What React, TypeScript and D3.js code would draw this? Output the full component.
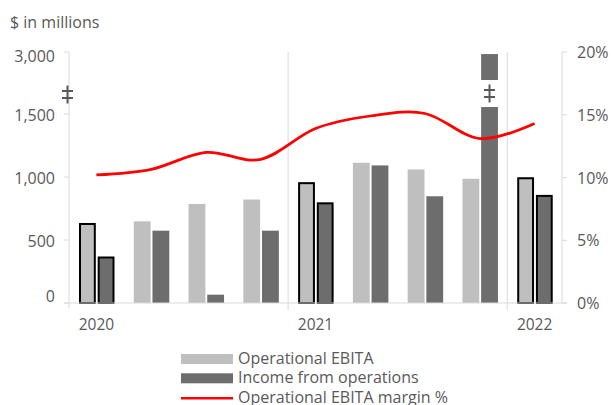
import React from "react";
import * as d3 from "d3";

const quarters = ["Q1 2020", "Q2 2020", "Q3 2020", "Q4 2020", "Q1 2021", "Q2 2021", "Q3 2021", "Q4 2021", "Q1 2022"];
const operationalEbita = [635, 648, 786, 821, 959, 1113, 1060, 986, 998];
const incomeFromOperations = [369, 574, 66, 574, 799, 1092, 847, 2950, 858];
const ebitaMarginPct = [10.2, 10.65, 12.0, 11.45, 13.9, 14.9, 15.1, 13.1, 14.3];
const leftTicks = [0, 500, 1000, 1500, 3000];
const rightTicks = [0, 5, 10, 15, 20];
const years = ["2020", "2021", "2022"];
const legendItems = ["Operational EBITA", "Income from operations", "Operational EBITA margin %"];

const W = 611;
const H = 405;
const FONT = "'Open Sans', sans-serif";
const TEXT = "#595959";
const GRID = "#d9d9d9";
const LIGHT = "#bfbfbf";
const DARK = "#6d6d6d";
const RED = "#ff0000";

export default function App() {
  const left = 69;
  const right = 562;
  const top = 52;
  const bottom = 303;

  const x = d3.scaleBand<string>().domain(quarters).range([left, right]).paddingInner(0).paddingOuter(0);
  const inner = d3.scaleBand<string>().domain(["ebita", "income"]).range([10, 45.5]).paddingInner(0.1);
  // broken axis: 0..1500 linear, 1500..3000 compressed
  const yL = d3.scaleLinear().domain([0, 1500, 3000]).range([bottom, 114, top]);
  const yR = d3.scaleLinear().domain([0, 20]).range([bottom, top]);

  const line = d3
    .line<number>()
    .x((_, i) => (x(quarters[i]) as number) + x.bandwidth() / 2)
    .y((d) => yR(d))
    .curve(d3.curveCatmullRom.alpha(0));

  const isQ1 = (q: string) => q.startsWith("Q1");
  const yearIdx = quarters.map((q, i) => (isQ1(q) ? i : -1)).filter((i) => i >= 0);
  const dividers = yearIdx.slice(1).map((i) => x(quarters[i]) as number);

  const breakIdx = incomeFromOperations.findIndex((v) => v > 1500);

  const drawBreak = (cx: number, cy: number, key: string) => (
    <g key={key} stroke={TEXT} strokeWidth={2}>
      <line x1={cx} x2={cx} y1={cy - 9} y2={cy + 9} />
      <line x1={cx - 5.5} x2={cx + 5.5} y1={cy - 3.5} y2={cy - 3.5} />
      <line x1={cx - 5.5} x2={cx + 5.5} y1={cy + 3.5} y2={cy + 3.5} />
    </g>
  );

  return (
    <svg width={W} height={H} style={{ position: "absolute", left: 0, top: 0, background: "#fff" }} fontFamily={FONT}>
      <text x={10} y={28} fontSize={16} fill={TEXT}>$ in millions</text>

      {/* gridlines / axes */}
      <line x1={left} x2={left} y1={top} y2={bottom + 5} stroke={GRID} />
      {dividers.map((dx, i) => (
        <line key={"d" + i} x1={dx} x2={dx} y1={top} y2={bottom + 7} stroke={GRID} />
      ))}
      <line x1={right} x2={right} y1={top} y2={bottom} stroke={GRID} />
      {leftTicks.map((t) => (
        <line key={"lt" + t} x1={left - 5} x2={left} y1={yL(t)} y2={yL(t)} stroke={GRID} />
      ))}
      {rightTicks.map((t) => (
        <line key={"rt" + t} x1={right} x2={right + 5} y1={yR(t)} y2={yR(t)} stroke={GRID} />
      ))}

      {/* bars */}
      {quarters.map((q, i) => {
        const bx = x(q) as number;
        const hl = isQ1(q);
        const sw = hl ? 2 : 0;
        return (
          <g key={q}>
            <rect
              x={bx + (inner("ebita") as number) + sw / 2}
              y={yL(operationalEbita[i]) + sw / 2}
              width={inner.bandwidth() - sw}
              height={bottom - yL(operationalEbita[i]) - sw / 2}
              fill={LIGHT}
              stroke={hl ? "#000" : "none"}
              strokeWidth={sw}
            />
            <rect
              x={bx + (inner("income") as number) + sw / 2}
              y={yL(incomeFromOperations[i]) + sw / 2}
              width={inner.bandwidth() - sw}
              height={bottom - yL(incomeFromOperations[i]) - sw / 2}
              fill={DARK}
              stroke={hl ? "#000" : "none"}
              strokeWidth={sw}
            />
          </g>
        );
      })}

      {/* break on tall bar */}
      {breakIdx >= 0 && (
        <g>
          <rect
            x={(x(quarters[breakIdx]) as number) + (inner("income") as number) - 1}
            y={80}
            width={inner.bandwidth() + 2}
            height={27}
            fill="#fff"
          />
          {drawBreak((x(quarters[breakIdx]) as number) + (inner("income") as number) + inner.bandwidth() / 2, 93.5, "bb")}
        </g>
      )}

      {/* baseline */}
      <line x1={left - 5} x2={right + 5} y1={bottom} y2={bottom} stroke={GRID} />

      {/* axis break */}
      {drawBreak(left - 1.5, 94.5, "ab")}

      {/* left labels */}
      {leftTicks.map((t) => (
        <text
          key={"ll" + t}
          x={55}
          y={Math.max(56, Math.min(296, yL(t) + 1))}
          fontSize={16}
          fill={TEXT}
          textAnchor="end"
          dominantBaseline="central"
        >
          {d3.format(",")(t)}
        </text>
      ))}
      {/* right labels */}
      {rightTicks.map((t) => (
        <text key={"rl" + t} x={577} y={yR(t)} fontSize={16} fill={TEXT} dominantBaseline="central">
          {t + "%"}
        </text>
      ))}

      {/* year labels */}
      {yearIdx.map((qi, k) => (
        <text
          key={"y" + k}
          x={(x(quarters[qi]) as number) + x.bandwidth() / 2}
          y={330}
          fontSize={15.5}
          fill={TEXT}
          textAnchor="middle"
        >
          {years[k]}
        </text>
      ))}

      {/* margin line */}
      <path d={line(ebitaMarginPct) || ""} fill="none" stroke={RED} strokeWidth={2.75} />

      {/* legend */}
      <rect x={181} y={354} width={52} height={10} fill={LIGHT} />
      <text x={238} y={364} fontSize={16} fill={TEXT}>{legendItems[0]}</text>
      <rect x={181} y={373.3} width={52} height={10} fill={DARK} />
      <text x={238} y={383.3} fontSize={16} fill={TEXT}>{legendItems[1]}</text>
      <line x1={181} x2={233} y1={398.3} y2={398.3} stroke={RED} strokeWidth={2.5} />
      <text x={238} y={403} fontSize={16} fill={TEXT}>{legendItems[2]}</text>
    </svg>
  );
}
